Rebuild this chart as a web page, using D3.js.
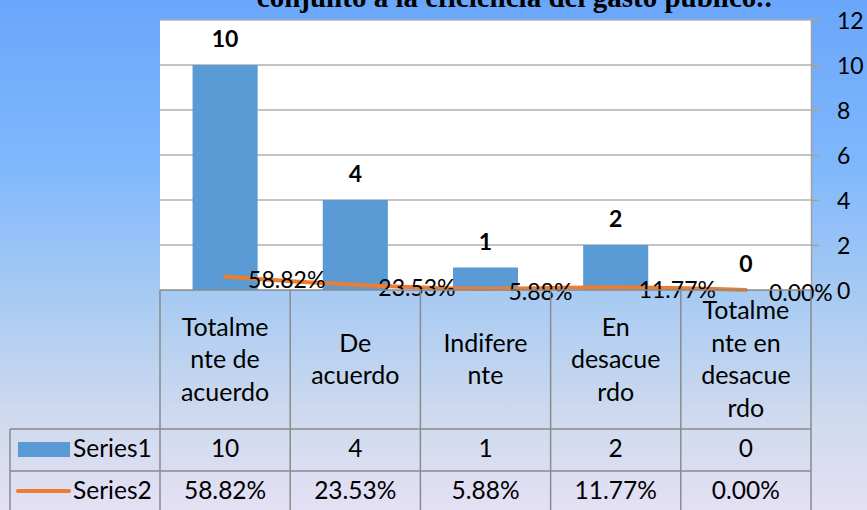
<!DOCTYPE html>
<html>
<head>
<meta charset="utf-8">
<script src="https://cdn.jsdelivr.net/npm/d3@7"></script>
<style>
    body { margin: 0; padding: 0; }
    svg { display: block; }
</style>
</head>
<body>
<div id="chart"></div>
<script>
// data
var categories = ["Totalmente de acuerdo", "De acuerdo", "Indiferente", "En desacuerdo", "Totalmente en desacuerdo"];
var catLines = [["Totalme", "nte de", "acuerdo"], ["De", "acuerdo"], ["Indifere", "nte"], ["En", "desacue", "rdo"], ["Totalme", "nte en", "desacue", "rdo"]];
var series1 = [10, 4, 1, 2, 0];
var series2 = [0.5882, 0.2353, 0.0588, 0.1177, 0.0];
var yTicks = [0, 2, 4, 6, 8, 10, 12];
var seriesNames = ["Series1", "Series2"];
var titleText = "conjunto a la eficiencia del gasto público.:";

var W = 867, H = 510;
var font = "Lato, 'Open Sans', sans-serif";
var plot = {left: 160, right: 811, top: 20, bottom: 290};

var svg = d3.select("#chart").append("svg")
    .attr("width", W)
    .attr("height", H);

// background gradient
var defs = svg.append("defs");
var grad = defs.append("linearGradient")
    .attr("id", "bg")
    .attr("x1", 0).attr("y1", 0).attr("x2", 0).attr("y2", 1);
[["0", "#6aa6fa"], ["0.33", "#80b8fc"], ["0.59", "#a9cbf2"], ["0.82", "#cfdaee"], ["1", "#e4e0f4"]].forEach(function(s) {
    grad.append("stop").attr("offset", s[0]).attr("stop-color", s[1]);
});
svg.append("rect").attr("width", W).attr("height", H).attr("fill", "url(#bg)");

var x = d3.scaleBand()
    .domain(categories)
    .range([plot.left, plot.right])
    .paddingInner(0.5)
    .paddingOuter(0.25);
var xc = function(d) { return x(d) + x.bandwidth() / 2; };

var y = d3.scaleLinear()
    .domain([0, 12])
    .range([plot.bottom, plot.top]);

// plot area
svg.append("rect")
    .attr("x", plot.left).attr("y", plot.top)
    .attr("width", plot.right - plot.left).attr("height", plot.bottom - plot.top)
    .attr("fill", "#ffffff");

// gridlines
svg.append("g").selectAll("line")
    .data(yTicks.filter(function(t) { return t > 0; }))
    .enter().append("line")
    .attr("x1", plot.left).attr("x2", plot.right + 8)
    .attr("y1", function(d) { return y(d); })
    .attr("y2", function(d) { return y(d); })
    .attr("stroke", "#b0b0b0").attr("stroke-width", 1.5);

// right axis
var yAxis = d3.axisRight(y).tickValues(yTicks).tickSize(8).tickPadding(18);
var gy = svg.append("g")
    .attr("transform", "translate(" + plot.right + ",0)")
    .call(yAxis);
gy.select(".domain").attr("stroke", "#a0a0a0").attr("stroke-width", 1.5);
gy.selectAll(".tick line").attr("stroke", "#a0a0a0").attr("stroke-width", 1.5);
gy.selectAll(".tick text")
    .attr("font-family", font).attr("font-size", 23).attr("fill", "#000")
    .attr("dy", "0.36em");

// bars
svg.append("g").selectAll("rect")
    .data(series1)
    .enter().append("rect")
    .attr("x", function(d, i) { return x(categories[i]); })
    .attr("y", function(d) { return y(d); })
    .attr("width", x.bandwidth())
    .attr("height", function(d) { return y(0) - y(d); })
    .attr("fill", "#5b9bd5");

// bar labels
svg.append("g").selectAll("text")
    .data(series1)
    .enter().append("text")
    .attr("x", function(d, i) { return xc(categories[i]); })
    .attr("y", function(d) { return y(d) - 18; })
    .attr("text-anchor", "middle")
    .attr("font-family", font).attr("font-size", 23).attr("font-weight", "bold")
    .text(function(d) { return d; });

// series2 line, plotted on same axis
var line = d3.line()
    .x(function(d, i) { return xc(categories[i]); })
    .y(function(d) { return y(d); })
    .curve(d3.curveMonotoneX);
svg.append("path")
    .datum(series2)
    .attr("d", line)
    .attr("fill", "none")
    .attr("stroke", "#ed7d31")
    .attr("stroke-width", 4)
    .attr("stroke-linecap", "round");

var pct = d3.format(".2%");
svg.append("g").selectAll("text")
    .data(series2)
    .enter().append("text")
    .attr("x", function(d, i) { return xc(categories[i]) + 23; })
    .attr("y", function(d) { return y(d) + 11; })
    .attr("font-family", font).attr("font-size", 23)
    .text(function(d) { return pct(d); });

// data table
var rowTop = plot.bottom, row1 = 429, row2 = 471, rowEnd = 512;
var tbl = svg.append("g").attr("stroke", "#8a8a8a").attr("stroke-width", 1.5);
var colEdges = [plot.left].concat(categories.map(function(c, i) { return plot.left + (plot.right - plot.left) * (i + 1) / categories.length; }));
colEdges.forEach(function(cx) {
    tbl.append("line").attr("x1", cx).attr("x2", cx).attr("y1", rowTop).attr("y2", rowEnd);
});
tbl.append("line").attr("x1", 10).attr("x2", 10).attr("y1", row1).attr("y2", rowEnd);
tbl.append("line").attr("x1", plot.left).attr("x2", plot.right).attr("y1", rowTop).attr("y2", rowTop);
[row1, row2].forEach(function(ry) {
    tbl.append("line").attr("x1", 10).attr("x2", plot.right).attr("y1", ry).attr("y2", ry);
});

// category header cells
var catG = svg.append("g").attr("font-family", font).attr("font-size", 25).attr("text-anchor", "middle");
catLines.forEach(function(lines, i) {
    var cx = xc(categories[i]);
    var n = lines.length;
    lines.forEach(function(t, j) {
        catG.append("text")
            .attr("x", cx)
            .attr("y", 368 + (j - (n - 1) / 2) * 32.5)
            .text(t);
    });
});

// value rows
var rows = [{name: seriesNames[0], vals: series1.map(String), base: 457},
            {name: seriesNames[1], vals: series2.map(pct), base: 499}];
rows.forEach(function(r, k) {
    svg.append("text")
        .attr("x", 73).attr("y", r.base)
        .attr("font-family", font).attr("font-size", 24.5)
        .text(r.name);
    svg.append("g").selectAll("text")
        .data(r.vals)
        .enter().append("text")
        .attr("x", function(d, i) { return xc(categories[i]); })
        .attr("y", r.base)
        .attr("text-anchor", "middle")
        .attr("font-family", font).attr("font-size", 24.5)
        .text(function(d) { return d; });
});

// legend keys
svg.append("rect").attr("x", 18).attr("y", 442).attr("width", 52).attr("height", 15).attr("fill", "#5b9bd5");
svg.append("line").attr("x1", 18).attr("x2", 69).attr("y1", 491).attr("y2", 491)
    .attr("stroke", "#ed7d31").attr("stroke-width", 4).attr("stroke-linecap", "round");

// title, cut at top edge as in the source
svg.append("text")
    .attr("x", 515).attr("y", 7)
    .attr("text-anchor", "middle")
    .attr("font-family", "'Liberation Serif', 'Times New Roman', serif")
    .attr("font-size", 29).attr("font-weight", "bold")
    .text(titleText);
</script>
</body>
</html>
